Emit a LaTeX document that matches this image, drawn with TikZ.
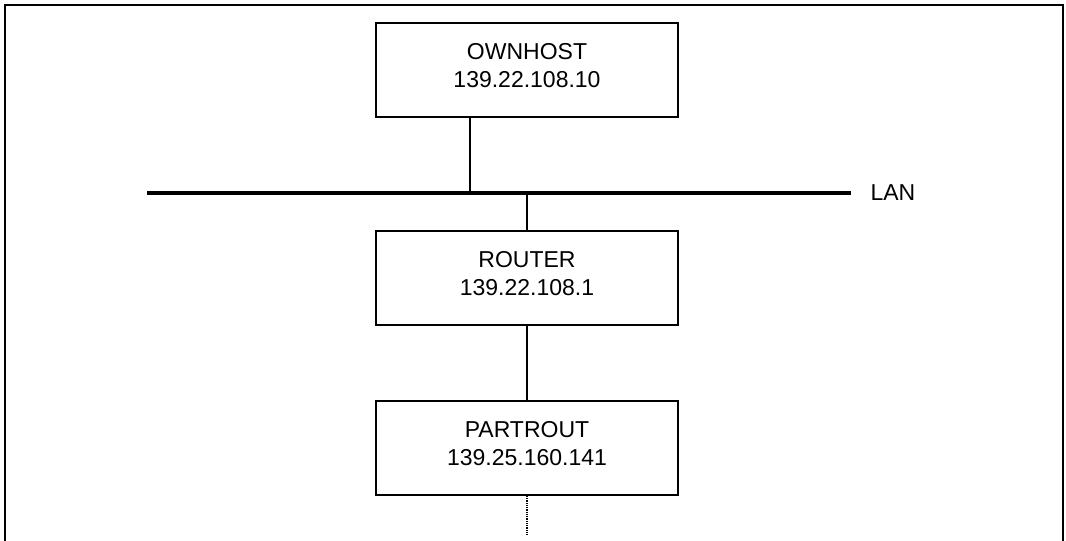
\documentclass[tikz,border=0pt]{standalone}
\usepackage{fontspec}
\setmainfont{Liberation Sans}
\usetikzlibrary{positioning}

\begin{document}
\begin{tikzpicture}[
  x=1pt, y=-1pt,
  every node/.style={font=\fontsize{23}{28}\selectfont},
  host/.style={draw=black, line width=2pt, minimum width=302pt, minimum height=94pt, align=center, text depth=10pt, inner sep=0pt},
  wire/.style={draw=black, line width=2pt},
  lan/.style={draw=black, line width=3.5pt}
]
\useasboundingbox (0,0) rectangle (1066,541);

% Frame, open at the bottom
\draw[wire] (5,541) -- (5,5) -- (1063,5) -- (1063,541);

% Hosts
\node[host] (ownhost) at (527,70) {OWNHOST\\139.22.108.10};
\node[host, below=112pt of ownhost] (router) {ROUTER\\139.22.108.1};
\node[host, below=74pt of router] (partrout) {PARTROUT\\139.25.160.141};

% LAN bus
\coordinate (lanL) at (147,193);
\coordinate (lanR) at (851,193);
\coordinate (tapA) at (470,193);
\coordinate (tapB) at (527,193);
\node[right=16pt of lanR] (lan) {LAN};
\draw[lan] (lanL) -- (lanR);

% Links
\draw[wire] (tapA |- ownhost.south) -- (tapA);
\draw[wire] (tapB) -- (router.north);
\draw[wire] (router) -- (partrout);
\coordinate (tail) at (527,534);
\draw[wire, line width=2.5pt, dash pattern=on 1pt off 0.8pt] (partrout.south) -- (tail);
\end{tikzpicture}
\end{document}
